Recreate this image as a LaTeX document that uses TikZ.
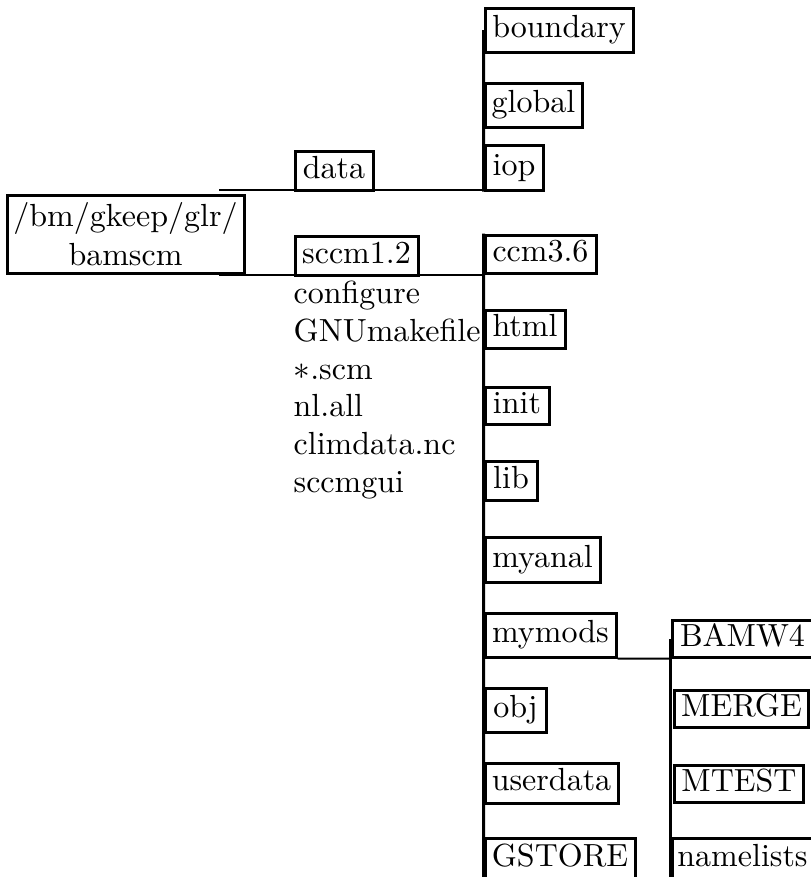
\documentclass[tikz,border=0pt]{standalone}
\begin{document}
\begin{tikzpicture}[x=0.3pt,y=-0.3pt,
  txt/.style={font=\fontsize{9.6}{11.7}\selectfont},
  dirbox/.style={txt, draw, line width=0.9pt, inner sep=0pt, text height=7pt, text depth=2.5pt},
  rootbox/.style={txt, draw, line width=0.9pt, inner sep=0pt, align=center},
  file/.style={txt, inner sep=0pt, anchor=base west},
  conn/.style={line width=0.6pt},
  trunk/.style={line width=0.9pt}]
\useasboundingbox (0,0) rectangle (811,877);

% root
\node[rootbox, minimum width=71.1pt, minimum height=23.4pt] (root) at (125.5,234) {/bm/gkeep/glr/\\bamscm};

% level 1
\node[dirbox, minimum width=23.4pt, minimum height=11.7pt] (data) at (334,170.5) {data};
\node[dirbox, minimum width=36.9pt, minimum height=11.7pt] (sccm) at (356.5,255.5) {sccm1.2};

% files of sccm1.2
\node[file] (f1) at (293,303) {configure};
\node[file] (f2) at (293,341) {GNUmakefile};
\node[file] (f3) at (293,379) {$*$.scm};
\node[file] (f4) at (293,416) {nl.all};
\node[file] (f5) at (293,454) {climdata.nc};
\node[file] (f6) at (293,492) {sccmgui};

% children of data
\node[dirbox, minimum width=44.4pt, minimum height=13.2pt] (boundary) at (559,30) {boundary};
\node[dirbox, minimum width=29.1pt, minimum height=13.2pt] (global) at (533.5,105) {global};
\node[dirbox, minimum width=17.4pt, minimum height=13.5pt] (iop) at (514,167.5) {iop};

% children of sccm1.2
\node[dirbox, minimum width=33.3pt, minimum height=11.4pt] (ccm) at (540.5,254) {ccm3.6};
\node[dirbox, minimum width=24pt, minimum height=11.4pt] (html) at (525,329) {html};
\node[dirbox, minimum width=19.2pt, minimum height=11.1pt] (init) at (517,405.5) {init};
\node[dirbox, minimum width=15.6pt, minimum height=11.7pt] (lib) at (511,480.5) {lib};
\node[dirbox, minimum width=34.5pt, minimum height=13.5pt] (myanal) at (542.5,559.5) {myanal};
\node[dirbox, minimum width=39.3pt, minimum height=13.2pt] (mymods) at (550.5,635) {mymods};
\node[dirbox, minimum width=18.3pt, minimum height=13.2pt] (obj) at (515.5,710) {obj};
\node[dirbox, minimum width=39.9pt, minimum height=12pt] (userdata) at (551.5,783) {userdata};
\node[dirbox, minimum width=45pt, minimum height=12.6pt] (gstore) at (560,859) {GSTORE};

% children of mymods
\node[dirbox, minimum width=42.3pt, minimum height=11.1pt] (bamw) at (742.5,638.5) {BAMW4};
\node[dirbox, minimum width=40.2pt, minimum height=11.1pt] (merge) at (741.5,708.5) {MERGE};
\node[dirbox, minimum width=38.7pt, minimum height=11.1pt] (mtest) at (739,783.5) {MTEST};
\node[dirbox, minimum width=42.3pt, minimum height=12.6pt] (namelists) at (742.5,859) {namelists};

% connectors
\coordinate (c1) at (219,190);
\coordinate (c2) at (219,275);
\draw[conn] (c1) -- (c1 -| iop.west);
\draw[conn] (c2) -- (c2 -| ccm.west);
\draw[trunk] (boundary.west) -- (iop.south west);
\draw[trunk] (ccm.north west) -- (gstore.south west);
\draw[conn] (mymods.south east) -- (bamw.south west);
\draw[trunk] (bamw.west) -- (namelists.south west);
\end{tikzpicture}
\end{document}
